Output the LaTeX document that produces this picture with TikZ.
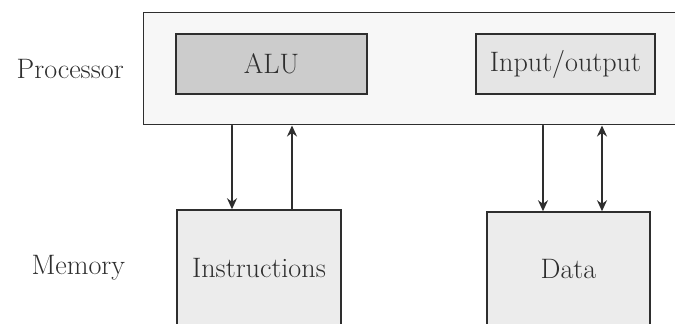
\documentclass[tikz,border=0pt]{standalone}
\usepackage{tikz}
\usetikzlibrary{arrows.meta,positioning}
\usepackage{xcolor}
\definecolor{edge}{HTML}{2E2E2E}

\begin{document}
\begin{tikzpicture}[>={Stealth[length=2.2mm,width=2mm]},font=\fontsize{16}{18}\selectfont,line cap=round,
  unit/.style={draw=edge,line width=0.85pt,text=edge,inner sep=0pt},
  link/.style={draw=edge,line width=0.85pt}]
\useasboundingbox (0,0) rectangle (13.5,6.46);
\clip (0,0) rectangle (13.5,6.46);
% processor
\node[unit,fill=gray!6,minimum width=10.94cm,minimum height=2.24cm,anchor=north west] (proc) at (2.86,6.22) {};
\node[unit,fill=gray!40,minimum width=3.82cm,minimum height=1.2cm] (alu) at (5.43,5.18) {ALU};
\node[unit,fill=gray!20,minimum width=3.58cm,minimum height=1.2cm] (io) at (11.31,5.18) {Input/output};
% memory
\node[unit,fill=gray!15,minimum width=3.28cm,minimum height=2.32cm] (instr) at (5.18,1.10) {Instructions};
\node[unit,fill=gray!15,minimum width=3.26cm,minimum height=2.28cm] (data) at (11.37,1.08) {Data};
\node[text=edge,left=0.26cm of proc.west] (plab) {Processor};
\node[text=edge,left=0.9cm of instr.west] (mlab) {Memory};
% buses
\draw[link,->] ([xshift=-0.54cm]instr.north |- proc.south) -- ([xshift=-0.54cm]instr.north);
\draw[link,->] ([xshift=0.66cm]instr.north) -- ([xshift=0.66cm]instr.north |- proc.south);
\draw[link,->] ([xshift=-0.51cm]data.north |- proc.south) -- ([xshift=-0.51cm]data.north);
\draw[link,<->] ([xshift=0.67cm]data.north |- proc.south) -- ([xshift=0.67cm]data.north);
\end{tikzpicture}
\end{document}
